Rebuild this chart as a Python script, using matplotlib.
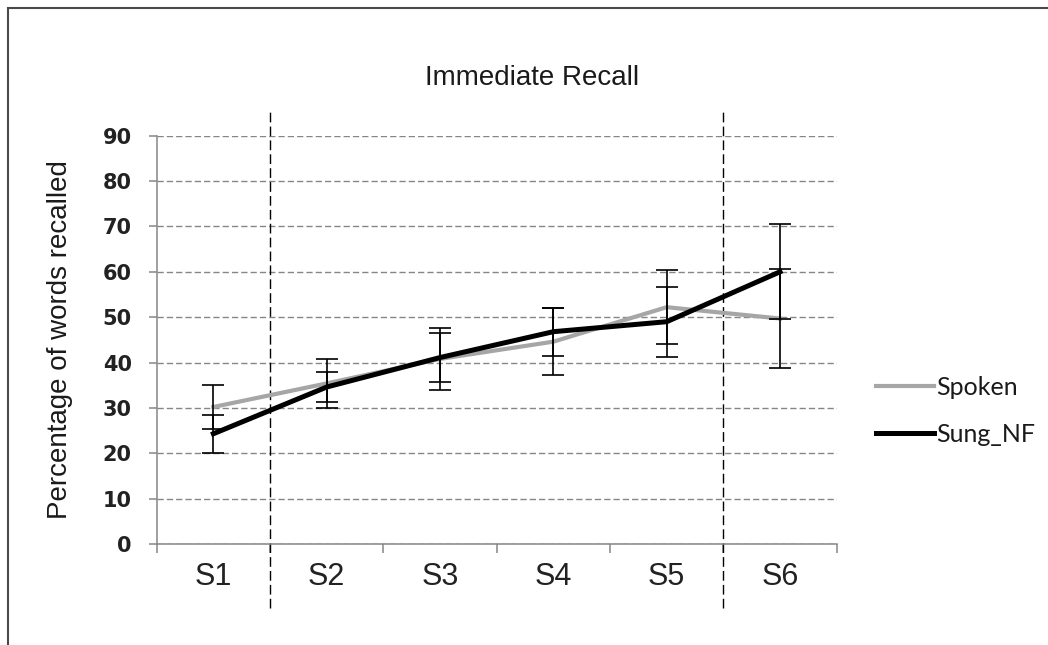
import matplotlib
matplotlib.use("Agg")
import matplotlib.pyplot as plt
from matplotlib.patches import Rectangle

plt.rcParams['lines.scale_dashes'] = False

sessions = ['S1', 'S2', 'S3', 'S4', 'S5', 'S6']
spoken = [30.2, 35.4, 40.8, 44.6, 52.2, 49.7]
spoken_err = [4.9, 5.4, 6.9, 7.4, 8.2, 11.0]
sung_nf = [24.3, 34.6, 41.1, 46.8, 49.0, 60.0]
sung_nf_err = [4.2, 3.3, 5.3, 5.3, 7.7, 10.5]
yticks = [0, 10, 20, 30, 40, 50, 60, 70, 80, 90]
phase_breaks = [0.5, 4.5]

W, H = 1048, 645
fig = plt.figure(figsize=(W / 100, H / 100), dpi=100)
ax = fig.add_axes([156.7 / W, 1 - 544 / H, 680 / W, 408.3 / H])

x = list(range(len(sessions)))
axis_grey = '#868686'

ax.plot(x, spoken, color='#a6a6a6', lw=3.0, label='Spoken', zorder=3,
        solid_joinstyle='round')
ax.errorbar(x, spoken, yerr=spoken_err, fmt='none', ecolor='black',
            elinewidth=1.2, capsize=8, capthick=1.2, zorder=4)
ax.plot(x, sung_nf, color='black', lw=3.6, label='Sung_NF', zorder=5,
        solid_joinstyle='round')
ax.errorbar(x, sung_nf, yerr=sung_nf_err, fmt='none', ecolor='black',
            elinewidth=1.2, capsize=8, capthick=1.2, zorder=6)

# phase separators, reaching past the plot area
for b in phase_breaks:
    ax.axvline(b, ymin=-0.157, ymax=1.06, color='black', lw=1.0,
               linestyle=(0, (7, 3)), clip_on=False, zorder=2)

ax.set_xlim(-0.5, len(sessions) - 0.5)
ax.set_ylim(0, 90)
ax.set_yticks(yticks)
ax.set_yticklabels([str(t) for t in yticks], fontsize=15,
                   fontweight='bold', family='DejaVu Sans', color='#222222')
ax.yaxis.grid(True, color=axis_grey, lw=1.0, linestyle=(0, (4.5, 2.2)))
ax.set_axisbelow(True)

ax.set_xticks([i - 0.5 for i in range(len(sessions) + 1)])
ax.set_xticklabels([])
ax.set_xticks(x, minor=True)
ax.set_xticklabels(sessions, minor=True, fontsize=22, family='Liberation Sans',
                   color='#222222')
ax.tick_params(axis='x', which='major', length=6.5, width=1.1, color=axis_grey)
ax.tick_params(axis='x', which='minor', length=0, pad=13)
ax.tick_params(axis='y', length=6, width=1.1, color=axis_grey, pad=12)

for s in ['top', 'right']:
    ax.spines[s].set_visible(False)
for s in ['left', 'bottom']:
    ax.spines[s].set_color(axis_grey)
    ax.spines[s].set_linewidth(1.1)

fig.text(532.5 / W, 1 - 78 / H, 'Immediate Recall', ha='center', va='center',
         fontsize=20, family='Liberation Sans', color='#1a1a1a')
fig.text(60 / W, 1 - 340 / H, 'Percentage of words recalled', ha='center',
         va='center', rotation=90, fontsize=20, family='Liberation Sans',
         color='#1a1a1a')

leg = ax.legend(loc='center left', bbox_to_anchor=(876 / W, 1 - 411 / H),
                bbox_transform=fig.transFigure, frameon=False,
                prop={'family': 'Lato', 'size': 18}, handlelength=2.3,
                handletextpad=0.1, labelspacing=0.95, borderpad=0,
                borderaxespad=0)
for t in leg.get_texts():
    t.set_color('#1a1a1a')

fig.patches.append(Rectangle((7.5 / W, -0.1), 1.2, (H - 8.5) / H + 0.1,
                             transform=fig.transFigure, fill=False,
                             edgecolor='#4a4a4a', lw=1.5))

fig.savefig('out.png', dpi=100, facecolor='white')
